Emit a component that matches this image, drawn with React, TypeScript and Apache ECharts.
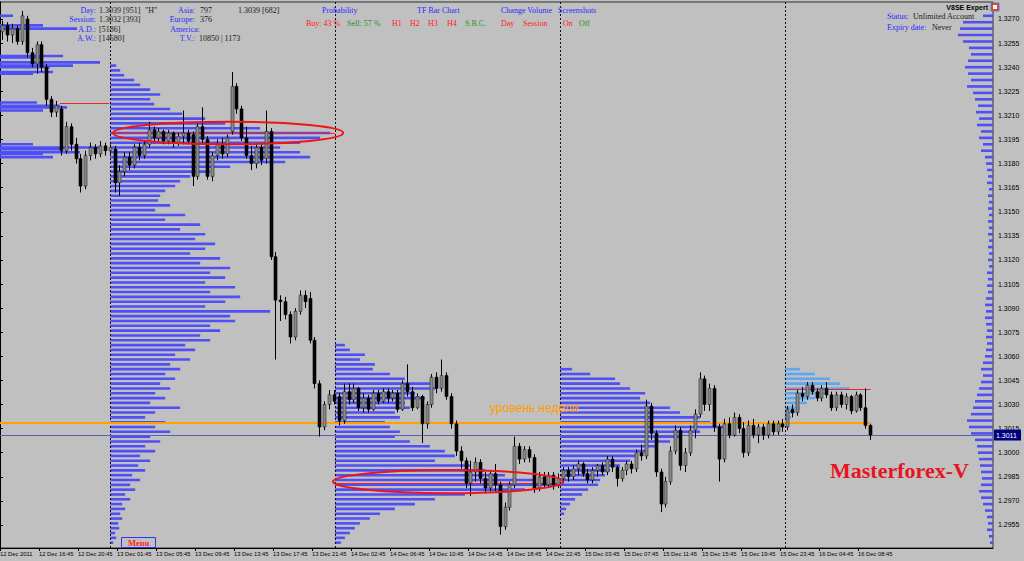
import React, { useEffect, useRef } from "react";
import * as echarts from "echarts";

// ---------- values (prices stored in pips above PRICE_BASE) ----------
const PRICE_BASE = 1.29;
const PIP = 0.0001;

const TIME_LABELS = ["12 Dec 2011", "12 Dec 16:45", "12 Dec 20:45", "13 Dec 01:45", "13 Dec 05:45", "13 Dec 09:45", "13 Dec 13:45", "13 Dec 17:45", "13 Dec 21:45", "14 Dec 02:45", "14 Dec 06:45", "14 Dec 10:45", "14 Dec 14:45", "14 Dec 18:45", "14 Dec 22:45", "15 Dec 03:45", "15 Dec 07:45", "15 Dec 11:45", "15 Dec 15:45", "15 Dec 19:45", "15 Dec 23:45", "16 Dec 04:45", "16 Dec 08:45"];
const TIME_LABEL_BARS = [0, 8, 16, 24, 32, 40, 48, 56, 64, 72, 80, 88, 96, 104, 112, 120, 128, 136, 144, 152, 160, 168, 176];
const PRICE_TICKS = [1.2955, 1.297, 1.2985, 1.3, 1.3015, 1.303, 1.3045, 1.306, 1.3075, 1.309, 1.3105, 1.312, 1.3135, 1.315, 1.3165, 1.318, 1.3195, 1.321, 1.3225, 1.324, 1.3255, 1.327];

// candles [open, close, low, high] in pips
const CANDLES_12DEC = [[362,366,357,369],[366,360,356,368],[360,364,355,367],[364,356,354,366],[356,372,354,375],[370,349,346,372],[349,342,340,352],[342,354,336,356],[354,340,337,356],[340,320,316,342],[320,312,309,322],[312,316,309,319],[314,288,285,316],[288,303,286,306],[303,292,288,305],[292,283,280,296],[283,266,262,286],[266,285,264,288],[285,290,282,293],[290,286,283,292],[286,291,284,294],[291,288,285,293],[288,290,286,292]];
const CANDLES_13DEC = [[289,268,262,291],[268,275,260,279],[275,284,272,287],[284,279,276,287],[279,290,277,292],[290,285,282,293],[285,292,283,294],[292,301,290,306],[301,296,293,303],[296,300,293,302],[300,294,292,301],[294,299,292,301],[299,293,290,300],[293,297,291,299],[297,299,292,313],[299,294,292,301],[298,272,266,300],[272,303,270,305],[303,295,292,315],[295,272,270,297],[272,285,269,287],[285,292,282,295],[292,286,283,296],[286,296,284,298],[300,328,298,337],[328,314,311,330],[314,296,294,316],[296,285,283,303],[285,280,276,291],[280,290,277,292],[290,282,279,293],[283,300,280,313],[300,222,220,302],[222,195,158,225],[195,194,182,198],[194,186,183,197],[186,172,168,188],[172,188,170,190],[188,198,186,201],[198,194,190,201],[196,170,168,200],[170,143,140,172],[143,116,110,145],[116,130,114,132],[130,136,127,139],[136,132,130,139]];
const CANDLES_14DEC = [[135,120,117,137],[120,138,118,143],[138,133,130,143],[133,140,131,143],[140,128,126,141],[128,134,125,137],[134,127,125,136],[127,137,126,139],[137,132,130,139],[132,138,131,140],[138,134,131,140],[134,137,132,139],[137,127,125,139],[127,143,126,145],[143,138,135,155],[138,128,126,141],[128,135,127,137],[135,118,106,136],[118,130,115,132],[130,147,128,149],[147,140,137,150],[140,148,138,158],[148,135,133,150],[135,118,115,137],[118,101,98,120],[101,95,90,104],[95,81,78,97],[81,88,73,95],[88,94,82,97],[94,84,81,96],[84,78,75,88],[78,87,76,89],[87,80,76,93],[80,54,49,82],[54,66,52,69],[66,80,64,82],[80,104,78,110],[104,96,93,106],[96,102,94,104],[102,97,94,104],[97,78,75,99],[78,85,76,88],[85,80,78,88],[80,86,78,88],[86,80,77,88],[80,84,78,87]];
const CANDLES_15DEC = [[84,89,81,91],[89,85,82,91],[85,90,83,92],[90,93,86,95],[93,87,85,94],[87,83,81,90],[83,89,81,91],[89,92,85,93],[92,88,86,94],[88,96,86,98],[96,91,88,98],[91,84,79,92],[84,89,82,91],[89,93,86,95],[93,90,87,95],[90,100,88,102],[100,98,95,105],[98,129,96,133],[129,112,108,131],[112,88,85,114],[88,68,63,90],[68,82,66,85],[82,101,80,104],[101,114,99,117],[114,92,89,116],[92,100,88,103],[100,114,98,117],[114,124,109,127],[124,146,122,150],[146,130,126,148],[130,140,126,143],[140,116,113,142],[116,96,82,118],[96,118,94,121],[118,111,109,122],[111,122,110,125],[122,115,112,124],[115,100,97,119],[100,117,98,120],[117,111,109,121],[111,116,106,118],[116,111,108,118],[111,118,109,120],[118,113,111,120],[113,118,111,120],[118,116,113,121]];
const CANDLES_16DEC = [[116,127,114,129],[127,125,122,130],[125,137,123,139],[137,135,132,141],[135,142,133,144],[142,138,136,144],[138,134,132,140],[134,140,132,142],[140,136,134,144],[136,128,126,138],[128,136,126,138],[136,130,128,138],[130,135,127,137],[135,126,124,136],[126,136,125,138],[136,128,126,137],[128,117,115,140],[117,111,108,118]];

// session boundaries (bar positions)
const SESSION_STARTS = [22.6, 68.7, 114.9, 161.0];

// volume profiles (tick volume per level), levels every 3 pips from the top level downwards
const PROFILE_13DEC_TOP = 341;
const PROFILE_13DEC = [6,10,14,24,30,40,50,40,44,60,72,95,115,150,220,210,190,170,190,200,175,120,100,80,70,65,55,50,48,60,45,75,55,90,70,95,85,105,95,80,110,90,120,100,115,95,125,100,130,115,95,160,120,125,100,110,90,100,75,85,65,80,60,70,55,65,50,60,45,55,40,70,45,35,55,45,60,40,50,35,45,30,40,28,35,22,30,20,25,15,20,12,15,10,12,8,9,5,6,3];
const PROFILE_14DEC_TOP = 167;
const PROFILE_14DEC = [10,15,30,25,40,38,55,70,95,100,80,90,70,75,60,65,50,55,65,60,75,95,110,120,100,135,150,170,200,225,190,130,100,80,60,45,35,25,20,15,10,6];
const PROFILE_15DEC_TOP = 152;
const PROFILE_15DEC = [12,30,55,60,70,85,80,90,110,120,140,150,165,140,120,110,95,85,75,70,60,50,45,40,38,28,22,15,10,6,4];
const PROFILE_16DEC_TOP = 152;
const PROFILE_16DEC = [15,30,45,55,65,40,30,22,15,10,6];
// previous-day profile visible at the left edge: [level pips, volume]
const PROFILE_12DEC = [[372,13],[366,43],[364,77],[347,63],[346,43],[343,100],[341,73],[340,50],[337,53],[336,33],[318,37],[316,60],[315,67],[313,43],[292,33],[290,100],[289,60],[287,80],[286,43],[284,53]];
// whole-range profile on the right, levels every 4 pips
const PROFILE_ALL_TOP = 372;
const PROFILE_ALL = [10,30,33,35,30,24,22,25,28,25,22,26,20,18,15,17,14,16,12,14,10,12,8,7,6,5,6,4,5,4,5,4,5,4,5,4,5,4,5,4,6,5,6,5,7,8,7,8,7,6,7,6,7,8,10,12,10,12,14,16,18,20,22,26,24,22,18,16,15,14,13,12,11,12,14,12,10,8,6,5,6,4,3];

const WEEK_LEVEL_PIPS = 118.5;
const LAST_PRICE = 1.3011;
const POC_PIPS = [317.7, 299, 81, 139.7];
const POC_FROM_BARS = [12.3, 22.6, 68.7, 161];
const POC_TO_BARS = [22.4, 68.7, 114.9, 178.6];

const ELLIPSE_CENTER_BARS = [46.8, 91.9];
const ELLIPSE_CENTER_PIPS = [299, 82];
const ELLIPSE_RX_BARS = [23.6, 23.6];
const ELLIPSE_RY_PIPS = [7, 7.2];

// ---------- layout constants ----------
const X_MAX = 203.7;
const Y_MIN_PIPS = 40.67;
const Y_MAX_PIPS = 380.58;
const VOL_TO_BARS = 1 / 4.875;
const PROFILE_STEP = 3;
const PROFILE_ALL_STEP = 4;

const toPrice = (p: number) => Math.round((PRICE_BASE + p * PIP) * 1e6) / 1e6;
const Y_MIN = toPrice(Y_MIN_PIPS);
const Y_MAX = toPrice(Y_MAX_PIPS);

const CANDLES = [...CANDLES_12DEC, ...CANDLES_13DEC, ...CANDLES_14DEC, ...CANDLES_15DEC, ...CANDLES_16DEC];
const candleData = CANDLES.map((c, i) => [i + 0.5, toPrice(c[0]), toPrice(c[1]), toPrice(c[2]), toPrice(c[3])]);

const rows = (start: number, top: number, step: number, vols: number[], color: number) =>
  vols.map((v, k) => [start, toPrice(top - k * step), v, color]);

const profileData = [
  ...PROFILE_12DEC.map((r) => [0, toPrice(r[0]), r[1], 0]),
  ...rows(SESSION_STARTS[0], PROFILE_13DEC_TOP, PROFILE_STEP, PROFILE_13DEC, 0),
  ...rows(SESSION_STARTS[1], PROFILE_14DEC_TOP, PROFILE_STEP, PROFILE_14DEC, 0),
  ...rows(SESSION_STARTS[2], PROFILE_15DEC_TOP, PROFILE_STEP, PROFILE_15DEC, 0),
  ...rows(SESSION_STARTS[3], PROFILE_16DEC_TOP, PROFILE_STEP, PROFILE_16DEC, 1),
];
const rightProfileData = rows(X_MAX, PROFILE_ALL_TOP, PROFILE_ALL_STEP, PROFILE_ALL, 0);

const levelData = [
  [0, 178.6, toPrice(WEEK_LEVEL_PIPS), 0],
  [0, X_MAX, LAST_PRICE, 1],
  ...POC_PIPS.map((p, i) => [POC_FROM_BARS[i], POC_TO_BARS[i], toPrice(p), 2]),
];
const sepData = SESSION_STARTS.map((b) => [b, Y_MIN]);
const ellipseData = ELLIPSE_CENTER_BARS.map((b, i) => [b, toPrice(ELLIPSE_CENTER_PIPS[i]), ELLIPSE_RX_BARS[i], ELLIPSE_RY_PIPS[i] * PIP]);

const PROFILE_COLORS = ["#4f4ff6", "#5ea6ef"];
const LEVEL_COLORS = ["#ffa200", "#5e5eb0", "#ee2424"];
const LEVEL_WIDTHS = [2, 1, 1];

const BLUE = "#2b2bff";
const DARK = "#1a1a1a";
const RED = "#ff2020";
const GREEN = "#1e961e";
const SERIF = "'Liberation Serif', serif";
const SANS = "'Liberation Sans', sans-serif";

function txt(x: number, y: number, text: string, fill: string, align = "left", size = 8, weight = "normal", family = SERIF, z = 10) {
  return {
    type: "text",
    x,
    y,
    z,
    style: {
      text,
      fill,
      fontSize: size,
      fontFamily: family,
      fontWeight: weight,
      align,
      textAlign: align,
      verticalAlign: "middle",
      textVerticalAlign: "middle",
    },
  };
}

export default function App() {
  const ref = useRef<HTMLDivElement>(null);
  useEffect(() => {
    const chart = echarts.init(ref.current!, null, { renderer: "svg" });
    const option: any = {
      animation: false,
      backgroundColor: "#c0c0c0",
      grid: { left: 0, right: 31, top: 2, bottom: 13, show: true, borderColor: "#303030", borderWidth: 1, outerBoundsMode: "none" },
      xAxis: {
        type: "value",
        min: 0,
        max: X_MAX,
        splitLine: { show: false },
        axisLine: { show: true, lineStyle: { color: "#000", width: 1 } },
        axisTick: { show: true, customValues: TIME_LABEL_BARS, length: 3, lineStyle: { color: "#000" } },
        axisLabel: {
          customValues: TIME_LABEL_BARS,
          formatter: (v: number) => TIME_LABELS[TIME_LABEL_BARS.indexOf(Math.round(v))] || "",
          align: "left",
          margin: 3,
          fontSize: 5.8,
          color: "#000",
          fontFamily: SANS,
        },
      },
      yAxis: {
        type: "value",
        position: "right",
        min: Y_MIN,
        max: Y_MAX,
        splitLine: { show: false },
        axisLine: { show: true, lineStyle: { color: "#000", width: 1 } },
        axisTick: { show: true, customValues: PRICE_TICKS, length: 3, lineStyle: { color: "#000" } },
        axisLabel: {
          customValues: PRICE_TICKS,
          formatter: (v: number) => v.toFixed(4),
          margin: 5,
          fontSize: 7,
          color: "#000",
          fontFamily: SANS,
        },
      },
      series: [
        {
          type: "custom",
          name: "profiles",
          z: 1,
          clip: true,
          encode: { x: 0, y: 1 },
          data: profileData,
          renderItem: (_p: any, api: any) => {
            const s = api.coord([api.value(0), api.value(1)]);
            const e = api.coord([api.value(0) + api.value(2) * VOL_TO_BARS, api.value(1)]);
            return { type: "line", shape: { x1: s[0], y1: s[1], x2: e[0], y2: e[1] }, style: { stroke: PROFILE_COLORS[api.value(3)], lineWidth: 2.6 } };
          },
        },
        {
          type: "custom",
          name: "rangeProfile",
          z: 1,
          clip: true,
          encode: { x: 0, y: 1 },
          data: rightProfileData,
          renderItem: (_p: any, api: any) => {
            const e = api.coord([api.value(0), api.value(1)]);
            const s = api.coord([api.value(0) - api.value(2) * VOL_TO_BARS, api.value(1)]);
            return { type: "line", shape: { x1: s[0], y1: s[1], x2: e[0], y2: e[1] }, style: { stroke: PROFILE_COLORS[0], lineWidth: 2.6 } };
          },
        },
        {
          type: "custom",
          name: "separators",
          z: 2,
          clip: true,
          encode: { x: 0, y: 1 },
          data: sepData,
          renderItem: (_p: any, api: any) => {
            const a = api.coord([api.value(0), Y_MAX]);
            const b = api.coord([api.value(0), Y_MIN]);
            const x = Math.round(a[0]) + 0.5;
            return { type: "line", shape: { x1: x, y1: a[1], x2: x, y2: b[1] }, style: { stroke: "#111", lineWidth: 1, lineDash: [2, 2] } };
          },
        },
        {
          type: "custom",
          name: "levels",
          z: 2,
          clip: true,
          encode: { x: [0, 1], y: 2 },
          data: levelData,
          renderItem: (_p: any, api: any) => {
            const a = api.coord([api.value(0), api.value(2)]);
            const b = api.coord([api.value(1), api.value(2)]);
            const k = api.value(3);
            const y = LEVEL_WIDTHS[k] === 1 ? Math.round(a[1]) + 0.5 : Math.round(a[1]);
            return { type: "line", shape: { x1: a[0], y1: y, x2: b[0], y2: y }, style: { stroke: LEVEL_COLORS[k], lineWidth: LEVEL_WIDTHS[k] } };
          },
        },
        {
          type: "custom",
          name: "candles",
          z: 3,
          clip: true,
          encode: { x: 0, y: [1, 2, 3, 4] },
          data: candleData,
          renderItem: (_p: any, api: any) => {
            const x = api.value(0);
            const o = api.value(1), c = api.value(2), l = api.value(3), h = api.value(4);
            const po = api.coord([x, o]);
            const pc = api.coord([x, c]);
            const pl = api.coord([x, l]);
            const ph = api.coord([x, h]);
            const cx = Math.round(po[0]) + 0.5;
            const top = Math.min(po[1], pc[1]);
            const bh = Math.max(1, Math.abs(po[1] - pc[1]));
            const bull = c >= o;
            return {
              type: "group",
              children: [
                { type: "line", shape: { x1: cx, y1: ph[1], x2: cx, y2: pl[1] }, style: { stroke: "#000", lineWidth: 1 } },
                { type: "rect", shape: { x: cx - 1.5, y: top, width: 3, height: bh }, style: { fill: bull ? "#8a8a8a" : "#050505", stroke: bull ? "#2a2a2a" : "#000", lineWidth: 0.6 } },
              ],
            };
          },
        },
        {
          type: "custom",
          name: "ellipses",
          z: 4,
          clip: true,
          encode: { x: 0, y: 1 },
          data: ellipseData,
          renderItem: (_p: any, api: any) => {
            const c = api.coord([api.value(0), api.value(1)]);
            const sz = api.size([api.value(2), api.value(3)]);
            return { type: "ellipse", shape: { cx: c[0], cy: c[1], rx: sz[0], ry: sz[1] }, style: { fill: "none", stroke: "#f01414", lineWidth: 2 } };
          },
        },
      ],
    };
    chart.setOption(option);

    const py = chart.convertToPixel({ yAxisIndex: 0 }, LAST_PRICE) as number;
    const graphic: any[] = [
      txt(96, 10, "Day:", BLUE, "right"), txt(99, 10, "1.3039 [951]", DARK), txt(145, 10, "\"H\"", DARK),
      txt(96, 19.5, "Session:", BLUE, "right"), txt(99, 19.5, "1.3032 [393]", DARK),
      txt(96, 29, "A.D.:", BLUE, "right"), txt(99, 29, "[5186]", DARK),
      txt(96, 38, "A.W.:", BLUE, "right"), txt(99, 38, "[14680]", DARK),
      txt(195, 10, "Asia:", BLUE, "right"), txt(200, 10, "797", DARK),
      txt(195, 19.5, "Europe:", BLUE, "right"), txt(200, 19.5, "376", DARK),
      txt(200, 29, "America:", BLUE, "right"),
      txt(195, 38, "T.V.:", BLUE, "right"), txt(199, 38, "10850 | 1173", DARK),
      txt(238, 10, "1.3039 [682]", DARK),
      txt(322, 10, "Probability", BLUE),
      txt(306, 23, "Buy: 43 %", RED), txt(347, 23, "Sell: 57 %", GREEN),
      txt(417, 10, "TF Bar Chart", BLUE),
      txt(392, 23, "H1", RED), txt(410, 23, "H2", RED), txt(428, 23, "H3", RED), txt(447, 23, "H4", RED),
      txt(465, 23, "S.B.C.", GREEN),
      txt(501, 10, "Change Volume", BLUE),
      txt(501, 23, "Day", RED), txt(523, 23, "Session", RED),
      txt(558, 10, "Screenshots", BLUE),
      txt(563, 23, "On", RED), txt(579, 23, "Off", GREEN),
      txt(988, 7, "V8SE Expert", "#000", "right", 7, "bold", SANS),
      { type: "rect", z: 10, shape: { x: 991, y: 3, width: 8, height: 8 }, style: { fill: "#e3401c", stroke: "#5a7ad0", lineWidth: 1 } },
      { type: "rect", z: 11, shape: { x: 993, y: 5, width: 4, height: 4 }, style: { fill: "#ffffff" } },
      txt(887, 16, "Status:", BLUE), txt(913, 16, "Unlimited Account", DARK, "left", 8, "normal", SERIF, 0),
      txt(887, 27, "Expiry date:", BLUE), txt(932, 27, "Never", DARK, "left", 8, "normal", SERIF, 0),
      txt(830, 470, "Masterforex-V", "#e8141e", "left", 22, "bold", SERIF),
      txt(490, 408, "уровень недели", "#ff9c00", "left", 12, "normal", SANS, 10),
      { type: "rect", z: 10, shape: { x: 121.5, y: 537.5, width: 34, height: 10 }, style: { fill: "#c0c0c0", stroke: "#3030ff", lineWidth: 1 } },
      txt(138.5, 543, "Menu", "#ff2020", "center", 8.5, "bold", SERIF, 11),
      { type: "rect", z: 20, shape: { x: 994, y: py - 5.5, width: 27, height: 11 }, style: { fill: "#000080" } },
      txt(996, py, "1.3011", "#ffffff", "left", 7, "normal", SANS, 21),
    ];
    chart.setOption({ graphic });
    return () => chart.dispose();
  }, []);
  return <div ref={ref} style={{ position: "fixed", left: 0, top: 0, width: 1024, height: 561 }} />;
}
